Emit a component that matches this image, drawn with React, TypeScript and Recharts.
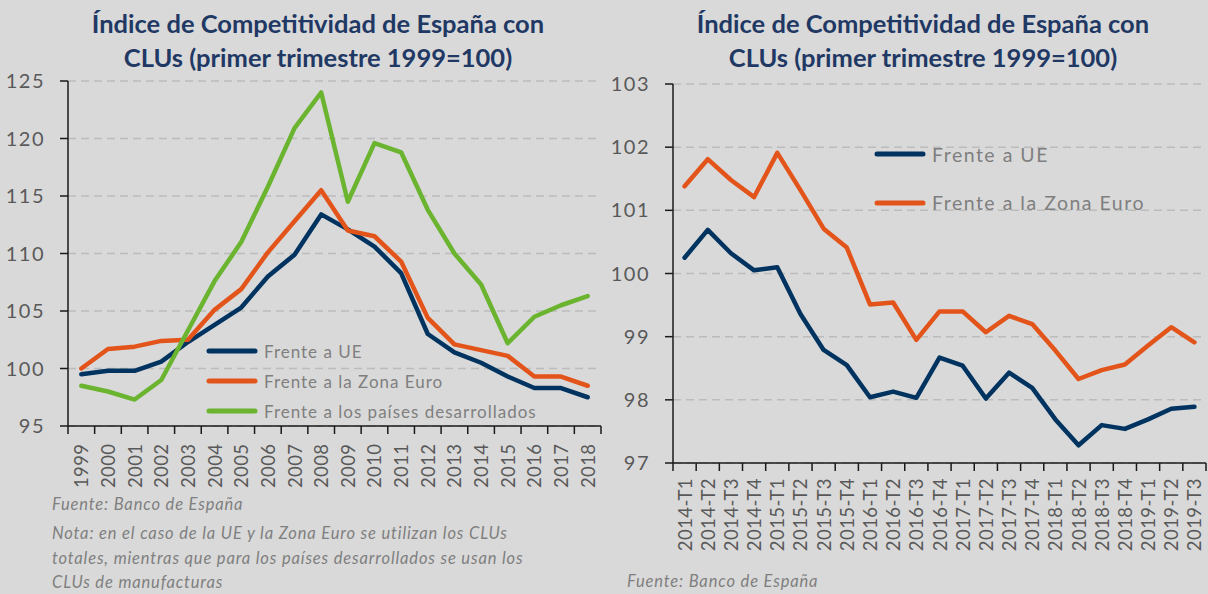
import { CartesianGrid, Legend, Line, LineChart, XAxis, YAxis } from 'recharts'

const years = [
  '1999', '2000', '2001', '2002', '2003', '2004', '2005', '2006', '2007', '2008',
  '2009', '2010', '2011', '2012', '2013', '2014', '2015', '2016', '2017', '2018',
]
const ueAnnual = [
  99.5, 99.8, 99.8, 100.6, 102.3, 103.8, 105.3, 108.0, 109.9, 113.4,
  112.1, 110.6, 108.3, 103.0, 101.4, 100.5, 99.3, 98.3, 98.3, 97.5,
]
const euroAnnual = [
  100.0, 101.7, 101.9, 102.4, 102.5, 105.1, 106.9, 110.1, 112.8, 115.5,
  112.0, 111.5, 109.3, 104.4, 102.1, 101.6, 101.1, 99.3, 99.3, 98.5,
]
const desarrolladosAnnual = [
  98.5, 98.0, 97.3, 99.0, 103.3, 107.6, 111.0, 115.8, 120.9, 124.0,
  114.5, 119.6, 118.8, 113.8, 110.0, 107.3, 102.2, 104.5, 105.5, 106.3,
]
const annualTicks = [95, 100, 105, 110, 115, 120, 125]

const quarters = [
  '2014-T1', '2014-T2', '2014-T3', '2014-T4', '2015-T1', '2015-T2', '2015-T3', '2015-T4',
  '2016-T1', '2016-T2', '2016-T3', '2016-T4', '2017-T1', '2017-T2', '2017-T3', '2017-T4',
  '2018-T1', '2018-T2', '2018-T3', '2018-T4', '2019-T1', '2019-T2', '2019-T3',
]
const ueQuarterly = [
  100.25, 100.69, 100.32, 100.05, 100.1, 99.36, 98.79, 98.55, 98.04, 98.13, 98.03, 98.67,
  98.54, 98.02, 98.43, 98.19, 97.69, 97.28, 97.6, 97.54, 97.69, 97.86, 97.89,
]
const euroQuarterly = [
  101.38, 101.81, 101.48, 101.21, 101.91, 101.32, 100.71, 100.41, 99.51, 99.54, 98.95, 99.4,
  99.4, 99.07, 99.33, 99.2, 98.78, 98.33, 98.47, 98.56, 98.86, 99.15, 98.91,
]
const quarterlyTicks = [97, 98, 99, 100, 101, 102, 103]

const annualRows = years.map((year, i) => ({
  cat: year,
  ue: ueAnnual[i],
  euro: euroAnnual[i],
  dev: desarrolladosAnnual[i],
}))
const quarterlyRows = quarters.map((q, i) => ({
  cat: q,
  ue: ueQuarterly[i],
  euro: euroQuarterly[i],
}))

const BG = '#d9d9d9'
const NAVY = '#00335f'
const ORANGE = '#e3541a'
const GREEN = '#6ab42f'
const TITLE = '#1f3864'
const TICK = '#595959'
const SOFT = '#7f7f7f'
const AXIS = '#1a1a1a'
const FONT = 'Lato, "Open Sans", sans-serif'

type TickProps = {
  x?: number
  y?: number
  payload?: { value?: unknown }
  index?: number
  visibleTicksCount?: number
  width?: number
  gap?: number
}

// category labels sit between Excel-style tick marks placed on the band edges
function CategoryTick({ x = 0, y = 0, payload, index = 0, visibleTicksCount = 1, width = 0, gap = 16 }: TickProps) {
  const half = width / visibleTicksCount / 2
  const last = index === visibleTicksCount - 1
  const top = y - 2
  return (
    <g>
      <line x1={x - half} x2={x - half} y1={top} y2={top + 8} stroke={AXIS} strokeWidth={1.5} />
      {last && <line x1={x + half} x2={x + half} y1={top} y2={top + 8} stroke={AXIS} strokeWidth={1.5} />}
      <text
        x={x}
        y={y + gap}
        transform={`rotate(-90, ${x}, ${y + gap})`}
        textAnchor="end"
        dominantBaseline="central"
        fill={TICK}
        fontSize={18.5}
        letterSpacing={0.4}
        fontFamily={FONT}
      >
        {String(payload?.value ?? '')}
      </text>
    </g>
  )
}

type LegendEntry = { value?: string; color?: string }

function LegendBox({
  payload = [],
  rowGap,
  fontSize,
  spacing,
}: {
  payload?: LegendEntry[]
  rowGap: number
  fontSize: number
  spacing: number
}) {
  return (
    <div style={{ fontFamily: FONT }}>
      {payload.map((p) => (
        <div key={p.value} style={{ display: 'flex', alignItems: 'center', height: rowGap }}>
          <svg width={52} height={10} style={{ marginRight: 6 }}>
            <line x1={3} x2={49} y1={5} y2={5} stroke={p.color} strokeWidth={5} strokeLinecap="round" />
          </svg>
          <span style={{ color: SOFT, fontSize, letterSpacing: spacing, whiteSpace: 'nowrap' }}>{p.value}</span>
        </div>
      ))}
    </div>
  )
}

function Title({ cx }: { cx: number }) {
  const line = {
    position: 'absolute' as const,
    left: cx - 300,
    width: 600,
    textAlign: 'center' as const,
    color: TITLE,
    fontWeight: 700,
    fontSize: 25.5,
    lineHeight: 1.2,
    fontFamily: FONT,
    whiteSpace: 'nowrap' as const,
  }
  return (
    <>
      <div style={{ ...line, top: 8 }}>Índice de Competitividad de España con</div>
      <div style={{ ...line, top: 41.5 }}>CLUs (primer trimestre 1999=100)</div>
    </>
  )
}

function Note({ left, top, children }: { left: number; top: number; children: string }) {
  return (
    <div
      style={{
        position: 'absolute',
        left,
        top,
        color: SOFT,
        fontStyle: 'italic',
        fontSize: 16.5,
        letterSpacing: 0.85,
        lineHeight: 1.2,
        fontFamily: FONT,
        whiteSpace: 'nowrap',
      }}
    >
      {children}
    </div>
  )
}

const lineProps = {
  type: 'linear' as const,
  strokeWidth: 4.5,
  dot: false,
  activeDot: false,
  isAnimationActive: false,
  strokeLinecap: 'round' as const,
  strokeLinejoin: 'round' as const,
}

export default function App() {
  return (
    <div
      style={{
        position: 'absolute',
        left: 0,
        top: 0,
        width: 1208,
        height: 594,
        background: BG,
        overflow: 'hidden',
        fontFamily: FONT,
      }}
    >
      <Title cx={318} />
      <Title cx={923} />

      <div style={{ position: 'absolute', left: 0, top: 0 }}>
        <LineChart width={610} height={500} data={annualRows} margin={{ top: 81, right: 9, bottom: 0, left: 0 }}>
          <CartesianGrid vertical={false} stroke="#bcbcbc" strokeDasharray="8 5" strokeWidth={1.5} />
          <XAxis
            dataKey="cat"
            scale="band"
            interval={0}
            height={74}
            tickLine={false}
            tickSize={0}
            tickMargin={2}
            axisLine={{ stroke: AXIS, strokeWidth: 1.5 }}
            tick={<CategoryTick gap={15.5} />}
          />
          <YAxis
            domain={[95, 125]}
            ticks={annualTicks}
            width={68}
            tickSize={8}
            tickMargin={15}
            axisLine={{ stroke: AXIS, strokeWidth: 1.5 }}
            tickLine={{ stroke: AXIS, strokeWidth: 1.5 }}
            tick={{ fill: TICK, fontSize: 20, fontFamily: FONT, letterSpacing: 1.5 }}
          />
          <Legend
            layout="vertical"
            align="center"
            verticalAlign="middle"
            wrapperStyle={{ left: 206, top: 336, width: 400 }}
            content={(p: { payload?: LegendEntry[] }) => (
              <LegendBox payload={p.payload} rowGap={30} fontSize={17} spacing={1} />
            )}
          />
          <Line {...lineProps} dataKey="ue" name="Frente a UE" stroke={NAVY} />
          <Line {...lineProps} dataKey="euro" name="Frente a la Zona Euro" stroke={ORANGE} />
          <Line {...lineProps} dataKey="dev" name="Frente a los países desarrollados" stroke={GREEN} />
        </LineChart>
      </div>

      <div style={{ position: 'absolute', left: 604, top: 0 }}>
        <LineChart width={604} height={570} data={quarterlyRows} margin={{ top: 84, right: 2, bottom: 0, left: 0 }}>
          <CartesianGrid vertical={false} stroke="#bcbcbc" strokeDasharray="8 5" strokeWidth={1.5} />
          <XAxis
            dataKey="cat"
            scale="band"
            interval={0}
            height={107}
            tickLine={false}
            tickSize={0}
            tickMargin={2}
            axisLine={{ stroke: AXIS, strokeWidth: 1.5 }}
            tick={<CategoryTick gap={13} />}
          />
          <YAxis
            domain={[97, 103]}
            ticks={quarterlyTicks}
            width={69}
            tickSize={8}
            tickMargin={15}
            axisLine={{ stroke: AXIS, strokeWidth: 1.5 }}
            tickLine={{ stroke: AXIS, strokeWidth: 1.5 }}
            tick={{ fill: TICK, fontSize: 20, fontFamily: FONT, letterSpacing: 1.5 }}
          />
          <Legend
            layout="vertical"
            align="center"
            verticalAlign="middle"
            wrapperStyle={{ left: 270, top: 130, width: 330 }}
            content={(p: { payload?: LegendEntry[] }) => (
              <LegendBox payload={p.payload} rowGap={48.5} fontSize={19.5} spacing={1.5} />
            )}
          />
          <Line {...lineProps} dataKey="ue" name="Frente a UE" stroke={NAVY} />
          <Line {...lineProps} dataKey="euro" name="Frente a la Zona Euro" stroke={ORANGE} />
        </LineChart>
      </div>

      <Note left={52} top={495}>Fuente: Banco de España</Note>
      <Note left={52} top={524}>Nota: en el caso de la UE y la Zona Euro se utilizan los CLUs</Note>
      <Note left={52} top={549}>totales, mientras que para los países desarrollados se usan los</Note>
      <Note left={52} top={573}>CLUs de manufacturas</Note>
      <Note left={627} top={572}>Fuente: Banco de España</Note>
    </div>
  )
}
